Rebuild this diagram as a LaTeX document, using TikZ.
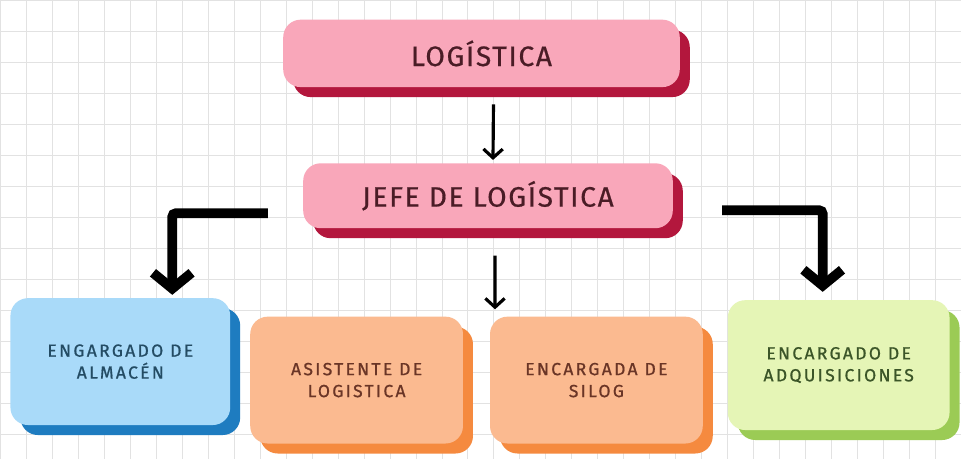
\documentclass[tikz,border=0pt]{standalone}
\usepackage{fontspec}
\setmainfont{Fira Sans}
\newfontfamily\titlefont[LetterSpace=6,FakeBold=0.6]{Fira Sans}
\newfontfamily\cardfont[LetterSpace=13,FakeBold=0.8]{Fira Sans}
\usetikzlibrary{arrows.meta,shadows,calc,positioning}

\definecolor{pinkfront}{HTML}{F9A7BA}
\definecolor{pinkback}{HTML}{B3173D}
\definecolor{pinktext}{HTML}{4A1C26}
\definecolor{bluefront}{HTML}{A9DAF9}
\definecolor{blueback}{HTML}{1E7CC0}
\definecolor{bluetext}{HTML}{234B63}
\definecolor{orangefront}{HTML}{FBBA90}
\definecolor{orangeback}{HTML}{F58A3F}
\definecolor{orangetext}{HTML}{6A3526}
\definecolor{greenfront}{HTML}{E5F5B6}
\definecolor{greenback}{HTML}{9BCB55}
\definecolor{greentext}{HTML}{3B5528}
\definecolor{gridline}{HTML}{E2E2E2}

\tikzset{
  card/.style={rounded corners=0.35cm, align=center, inner sep=2pt},
  pinkcard/.style={card, fill=pinkfront, text=pinktext,
    font=\titlefont\fontsize{16}{18}\selectfont, minimum height=1.35cm,
    drop shadow={shadow xshift=0.2cm, shadow yshift=-0.2cm, fill=pinkback, opacity=1}},
  smallcard/.style 2 args={card, fill=#1front, text=#1text,
    font=\cardfont\fontsize{10}{12.5}\selectfont, minimum height=2.54cm, minimum width=#2,
    drop shadow={shadow xshift=0.2cm, shadow yshift=-0.2cm, fill=#1back, opacity=1}},
  thinarrow/.style={line width=1.8pt, -{Straight Barb[length=5pt,width=11pt]}},
  bigarrow/.style={line width=5.5pt, rounded corners=2pt, -{Straight Barb[length=9pt,width=22pt]}}
}

\begin{document}
\begin{tikzpicture}[x=0.02cm, y=-0.02cm]
% paper grid
\fill[white] (0,0) rectangle (961,459);
\draw[gridline, line width=0.5pt, xstep=0.52cm, ystep=0.62cm] (0,0) grid (961,459);
\useasboundingbox (0,0) rectangle (961,459);

% boxes
\node[pinkcard, minimum width=7.94cm] (logistica) at (481.5,53) {LOGÍSTICA};
\node[pinkcard, minimum width=7.4cm, minimum height=1.3cm] (jefe) at (488,195.5) {JEFE DE LOGÍSTICA};

\node[smallcard={blue}{4.4cm}] (almacen) at (120,361.5) {ENGARGADO DE\\ALMACÉN};
\node[smallcard={orange}{4.26cm}] (asistente) at (356.5,380) {ASISTENTE DE\\LOGISTICA};
\node[smallcard={orange}{4.26cm}] (silog) at (596.5,380) {ENCARGADA DE\\SILOG};
\node[smallcard={green}{4.44cm}, minimum height=2.6cm] (adquisiciones) at (839,365) {ENCARGADO DE\\ADQUISICIONES};

% arrows
\draw[thinarrow] ([xshift=0.24cm, yshift=-0.34cm]logistica.south) -- ([xshift=0.1cm, yshift=0.06cm]jefe.north);
\draw[thinarrow] ([xshift=0.14cm, yshift=-0.54cm]jefe.south) -- ([xshift=-2.03cm, yshift=0.14cm]silog.north);
\draw[bigarrow] ([xshift=-0.7cm, yshift=-0.35cm]jefe.west) -| ([xshift=1.04cm, yshift=0.06cm]almacen.north);
\draw[bigarrow] ([xshift=0.98cm, yshift=-0.29cm]jefe.east) -| ([xshift=-0.32cm, yshift=0.16cm]adquisiciones.north);
\end{tikzpicture}
\end{document}
